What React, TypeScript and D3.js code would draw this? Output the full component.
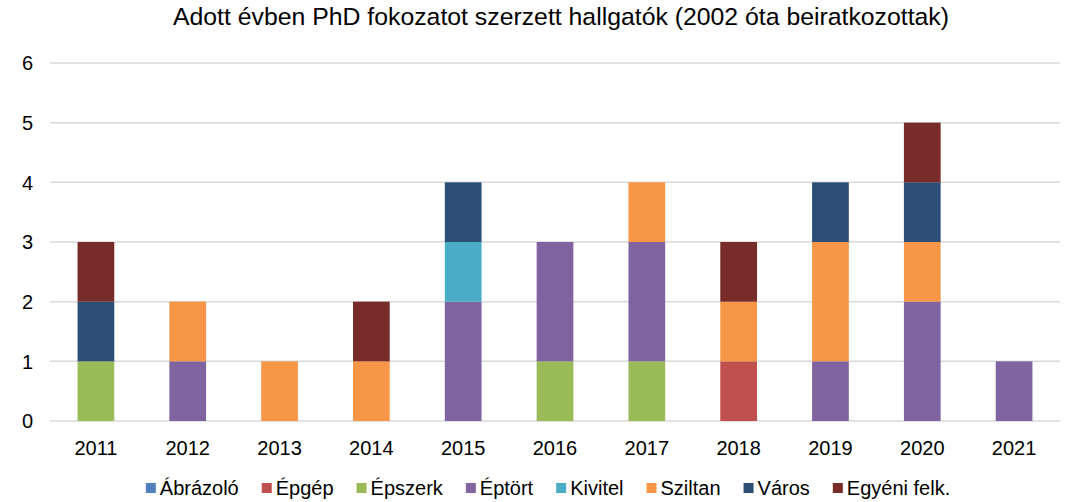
import React from "react";
import * as d3 from "d3";

const years = ["2011", "2012", "2013", "2014", "2015", "2016", "2017", "2018", "2019", "2020", "2021"];
const seriesNames = ["Ábrázoló", "Épgép", "Épszerk", "Éptört", "Kivitel", "Sziltan", "Város", "Egyéni felk."];
const seriesColors = ["#4f81bd", "#c0504d", "#9bbb59", "#8064a2", "#4bacc6", "#f79646", "#2c4d75", "#772c2a"];

const abrazolo = [0, 0, 0, 0, 0, 0, 0, 0, 0, 0, 0];
const epgep = [0, 0, 0, 0, 0, 0, 0, 1, 0, 0, 0];
const epszerk = [1, 0, 0, 0, 0, 1, 1, 0, 0, 0, 0];
const eptort = [0, 1, 0, 0, 2, 2, 2, 0, 1, 2, 1];
const kivitel = [0, 0, 0, 0, 1, 0, 0, 0, 0, 0, 0];
const sziltan = [0, 1, 1, 1, 0, 0, 1, 1, 2, 1, 0];
const varos = [1, 0, 0, 0, 1, 0, 0, 0, 1, 1, 0];
const egyeni = [1, 0, 0, 1, 0, 0, 0, 1, 0, 1, 0];

const yTicks = [0, 1, 2, 3, 4, 5, 6];

const W = 1066;
const H = 502;
const FONT = "'Liberation Sans', Arial, sans-serif";

function textWidth(s: string, size: number) {
    const c = document.createElement("canvas").getContext("2d");
    if (!c) return s.length * size * 0.55;
    c.font = `${size}px ${FONT}`;
    return c.measureText(s).width;
}

export default function App() {
    const allSeries = [abrazolo, epgep, epszerk, eptort, kivitel, sziltan, varos, egyeni];
    const rows = years.map((y, i) => {
        const r: Record<string, number | string> = { year: y };
        seriesNames.forEach((n, k) => (r[n] = allSeries[k][i]));
        return r;
    });
    const stacked = d3.stack<Record<string, number | string>>().keys(seriesNames)(rows as any);

    const x = d3.scaleBand().domain(years).range([50, 1060]).paddingInner(0.6).paddingOuter(0.3);
    const y = d3.scaleLinear().domain([0, 6]).range([421, 63]);

    // legend layout, centred under the plot
    const legendSize = 20;
    const sq = 10;
    const itemW = seriesNames.map(n => sq + 4 + textWidth(n, legendSize));
    const gap = 23;
    const total = d3.sum(itemW) + gap * (seriesNames.length - 1);
    let lx = 548 - total / 2;
    const legendX = itemW.map(w => {
        const p = lx;
        lx += w + gap;
        return p;
    });

    return (
        <svg width={W} height={H} style={{ position: "absolute", left: 0, top: 0, fontFamily: FONT }}>
            <rect width={W} height={H} fill="#fff" />
            <text x={561} y={25} textAnchor="middle" fontSize={24.8} fill="#000">
                Adott évben PhD fokozatot szerzett hallgatók (2002 óta beiratkozottak)
            </text>
            {yTicks.map(t => (
                <g key={t}>
                    <line x1={50} x2={1060} y1={y(t)} y2={y(t)} stroke="#d9d9d9" strokeWidth={1.5} />
                    <text x={33} y={y(t)} dy="0.36em" textAnchor="end" fontSize={20} fill="#000">{t}</text>
                </g>
            ))}
            {stacked.map((s, k) => (
                <g key={s.key} fill={seriesColors[k]}>
                    {s.map((d, i) =>
                        d[1] - d[0] > 0 ? (
                            <rect key={i} x={x(years[i])} width={x.bandwidth()} y={y(d[1])} height={y(d[0]) - y(d[1])} />
                        ) : null
                    )}
                </g>
            ))}
            {years.map(yr => (
                <text key={yr} x={(x(yr) ?? 0) + x.bandwidth() / 2} y={455} textAnchor="middle" fontSize={20} fill="#000">{yr}</text>
            ))}
            {seriesNames.map((n, k) => (
                <g key={n} transform={`translate(${legendX[k]},495)`}>
                    <rect x={0} y={-12} width={sq} height={sq} fill={seriesColors[k]} />
                    <text x={sq + 4} y={0} fontSize={legendSize} fill="#000">{n}</text>
                </g>
            ))}
        </svg>
    );
}
